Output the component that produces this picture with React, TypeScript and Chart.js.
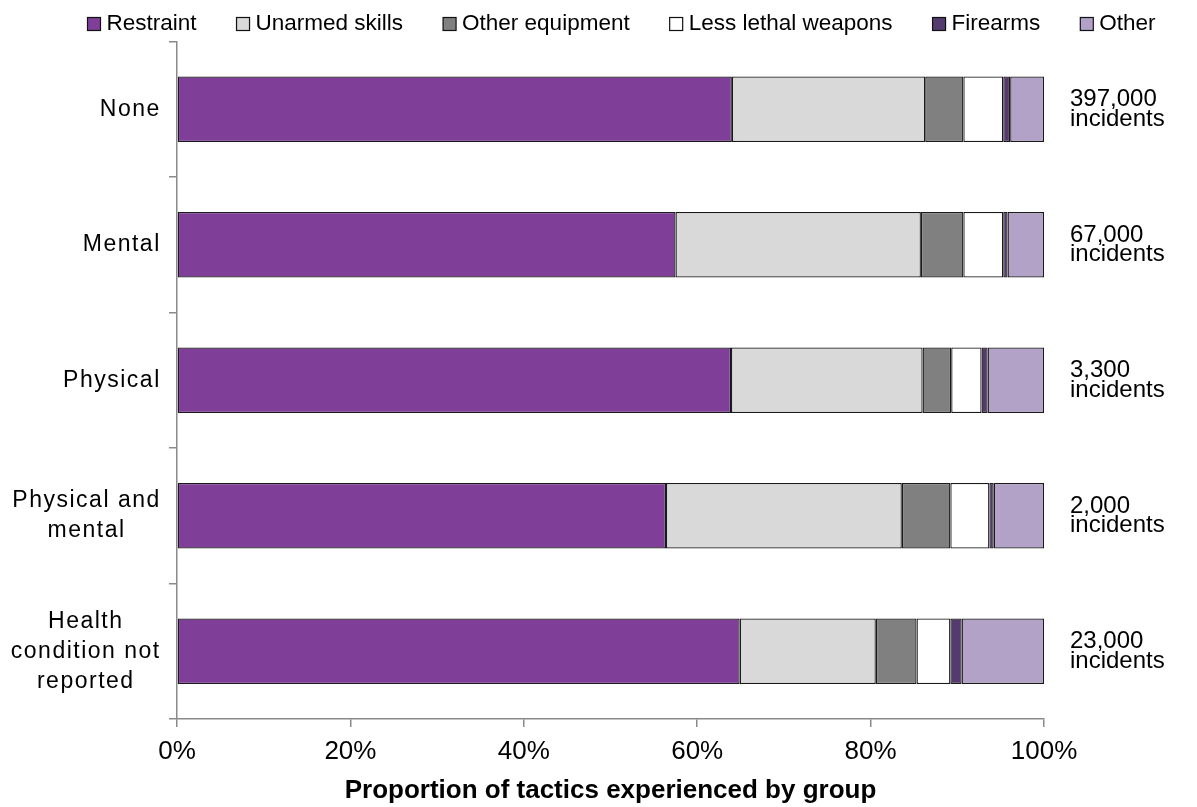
import React, { useEffect, useRef } from 'react';
import { Chart, registerables } from 'chart.js';

Chart.register(...registerables);

// ---- Data ----
const categories: string[][] = [
  ['None'],
  ['Mental'],
  ['Physical'],
  ['Physical and', 'mental'],
  ['Health', 'condition not', 'reported'],
];
const incidentLabels: string[][] = [
  ['397,000', 'incidents'],
  ['67,000', 'incidents'],
  ['3,300', 'incidents'],
  ['2,000', 'incidents'],
  ['23,000', 'incidents'],
];
const seriesNames = ['Restraint', 'Unarmed skills', 'Other equipment', 'Less lethal weapons', 'Firearms', 'Other'];
const restraint = [64.0, 57.5, 63.9, 56.4, 64.9];
const unarmedSkills = [22.3, 28.3, 22.1, 27.2, 15.7];
const otherEquipment = [4.4, 4.9, 3.3, 5.6, 4.7];
const lessLethalWeapons = [4.6, 4.6, 3.5, 4.5, 3.9];
const firearms = [0.8, 0.5, 0.7, 0.5, 1.3];
const otherTactics = [3.9, 4.2, 6.5, 5.8, 9.5];
const xTickValues = [0, 20, 40, 60, 80, 100];
const xAxisTitle = 'Proportion of tactics experienced by group';

// ---- Styles ----
const seriesColors = ['#7F3F98', '#D9D9D9', '#808080', '#FFFFFF', '#553A6E', '#B3A2C7'];
const FONT = '"Liberation Sans", Arial, sans-serif';
const AXIS_GRAY = '#8a8a8a';

const legendPlugin = {
  id: 'customLegend',
  afterDraw(chart: any) {
    const ctx = chart.ctx as CanvasRenderingContext2D;
    ctx.save();
    ctx.font = `22.5px ${FONT}`;
    ctx.textBaseline = 'middle';
    ctx.textAlign = 'left';
    let x = 87.5;
    const boxSize = 13;
    const boxTop = 17.5;
    const textY = 23.5;
    chart.data.datasets.forEach((ds: any) => {
      ctx.fillStyle = ds.backgroundColor;
      ctx.fillRect(x, boxTop, boxSize, boxSize);
      ctx.lineWidth = 1.2;
      ctx.strokeStyle = '#111';
      ctx.strokeRect(x, boxTop, boxSize, boxSize);
      ctx.fillStyle = '#000';
      ctx.fillText(ds.label, x + 19, textY);
      const w = ctx.measureText(ds.label).width;
      x += 19 + w + 40;
    });
    ctx.restore();
  },
};

const categoryLabelPlugin = {
  id: 'categoryLabels',
  afterDraw(chart: any) {
    const ctx = chart.ctx as CanvasRenderingContext2D;
    const yScale = chart.scales.y;
    ctx.save();
    ctx.font = `23px ${FONT}`;
    (ctx as any).letterSpacing = '1.5px';
    ctx.fillStyle = '#000';
    ctx.textAlign = 'center';
    ctx.textBaseline = 'middle';
    const rightEdge = yScale.right - 17;
    const lineH = 30;
    (chart.data.labels as string[][]).forEach((lines, i) => {
      const cy = yScale.getPixelForTick(i);
      const widths = lines.map((l) => ctx.measureText(l).width);
      const maxW = Math.max(...widths);
      const cx = rightEdge - maxW / 2;
      const start = cy - ((lines.length - 1) * lineH) / 2;
      lines.forEach((l, j) => ctx.fillText(l, cx + 0.75, start + j * lineH));
    });
    ctx.restore();
  },
};

export default function App() {
  const canvasRef = useRef<HTMLCanvasElement | null>(null);

  useEffect(() => {
    if (!canvasRef.current) return;
    const series = [restraint, unarmedSkills, otherEquipment, lessLethalWeapons, firearms, otherTactics];
    const chart = new Chart(canvasRef.current, {
      type: 'bar',
      data: {
        labels: categories as any,
        datasets: series.map((values, i) => ({
          label: seriesNames[i],
          data: values,
          backgroundColor: seriesColors[i],
          borderColor: '#1a1a1a',
          borderWidth: 1.3,
          borderSkipped: false,
          barPercentage: 0.485,
          categoryPercentage: 1,
          xAxisID: 'x',
          yAxisID: 'y',
        })),
      },
      options: {
        indexAxis: 'y',
        animation: false,
        responsive: true,
        maintainAspectRatio: false,
        layout: { padding: { top: 41.5, left: 0, right: 0, bottom: 0 } },
        plugins: {
          legend: { display: false },
          tooltip: { enabled: false },
        },
        scales: {
          x: {
            type: 'linear',
            stacked: true,
            min: 0,
            max: 100,
            afterBuildTicks: (s: any) => {
              s.ticks = xTickValues.map((v) => ({ value: v }));
            },
            afterFit: (s: any) => {
              s.height = 88;
            },
            grid: {
              display: true,
              drawOnChartArea: false,
              drawTicks: true,
              tickLength: 8,
              color: AXIS_GRAY,
              lineWidth: 1.5,
            },
            border: { display: true, color: AXIS_GRAY, width: 1.5 },
            ticks: {
              color: '#000',
              font: { family: FONT, size: 26 },
              padding: 9,
              maxRotation: 0,
              callback: (v: any) => `${v}%`,
            },
            title: {
              display: true,
              text: xAxisTitle,
              color: '#000',
              font: { family: FONT, size: 26, weight: 'bold', lineHeight: 0.6 },
              padding: { top: 0, bottom: 8 },
            },
          },
          y: {
            type: 'category',
            stacked: true,
            offset: true,
            afterFit: (s: any) => {
              s.width = 177;
              s.paddingTop = 0;
              s.paddingBottom = 0;
            },
            grid: {
              display: true,
              offset: true,
              drawOnChartArea: false,
              drawTicks: true,
              tickLength: 8,
              color: AXIS_GRAY,
              lineWidth: 1.5,
            },
            border: { display: true, color: AXIS_GRAY, width: 1.5 },
            ticks: { display: false },
          },
          yRight: {
            type: 'category',
            position: 'right',
            labels: incidentLabels as any,
            offset: true,
            afterFit: (s: any) => {
              s.width = 153;
              s.paddingTop = 0;
              s.paddingBottom = 0;
            },
            grid: { display: false, drawTicks: false },
            border: { display: false },
            ticks: {
              autoSkip: false,
              color: '#000',
              crossAlign: 'near',
              padding: 26,
              font: { family: FONT, size: 24, lineHeight: 0.82 },
            },
          },
        } as any,
      },
      plugins: [legendPlugin, categoryLabelPlugin],
    });
    return () => chart.destroy();
  }, []);

  return (
    <div style={{ position: 'absolute', left: 0, top: 0, width: 1197, height: 807 }}>
      <canvas ref={canvasRef} />
    </div>
  );
}
